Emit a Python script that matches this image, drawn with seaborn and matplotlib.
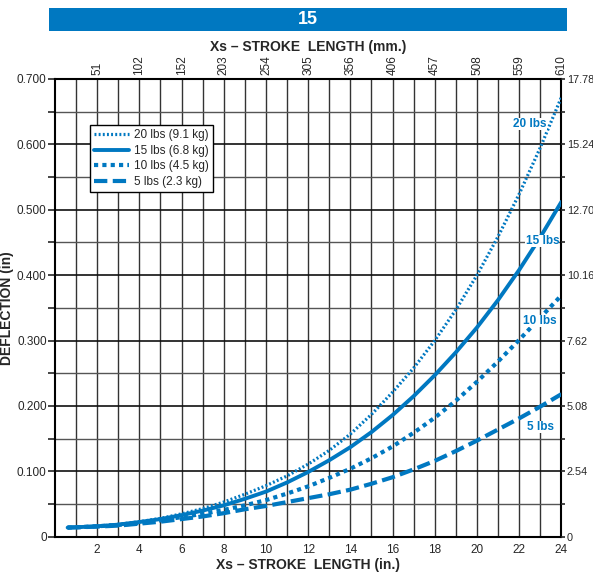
import numpy as np
import pandas as pd
import matplotlib
matplotlib.use("Agg")
import matplotlib.pyplot as plt
from matplotlib.patches import Rectangle
import seaborn as sns

# stroke length (in.) and deflection (in)
stroke = [0.6, 1, 2, 3, 4, 5, 6, 7, 8, 9, 10, 11, 12, 13, 14, 15, 16, 17, 18, 19, 20, 21, 22, 23, 24]
defl_20 = [0.014, 0.0145, 0.016, 0.019, 0.023, 0.028, 0.035, 0.043, 0.053, 0.065, 0.078, 0.093, 0.111,
           0.132, 0.157, 0.187, 0.221, 0.258, 0.300, 0.347, 0.400, 0.459, 0.524, 0.595, 0.672]
defl_15 = [0.014, 0.0145, 0.016, 0.0185, 0.0225, 0.027, 0.033, 0.040, 0.048, 0.058, 0.069, 0.083, 0.099,
           0.117, 0.137, 0.160, 0.186, 0.215, 0.247, 0.282, 0.320, 0.362, 0.408, 0.458, 0.512]
defl_10 = [0.014, 0.0145, 0.016, 0.018, 0.021, 0.025, 0.030, 0.035, 0.041, 0.048, 0.056, 0.066, 0.077,
           0.090, 0.104, 0.120, 0.138, 0.159, 0.182, 0.208, 0.237, 0.268, 0.301, 0.335, 0.369]
defl_5 = [0.014, 0.0143, 0.0155, 0.017, 0.020, 0.023, 0.027, 0.031, 0.036, 0.042, 0.047, 0.053, 0.059,
          0.065, 0.072, 0.081, 0.091, 0.103, 0.116, 0.131, 0.147, 0.164, 0.181, 0.199, 0.218]

series_names = ["20 lbs (9.1 kg)", "15 lbs (6.8 kg)", "10 lbs (4.5 kg)", "5 lbs (2.3 kg)"]
curve_labels = ["20 lbs", "15 lbs", "10 lbs", "5 lbs"]
mm_ticks = ["51", "102", "152", "203", "254", "305", "356", "406", "457", "508", "559", "610"]
mm_right = ["0", "2.54", "5.08", "7.62", "10.16", "12.70", "15.24", "17.78"]

BLUE = "#0078c1"

sns.set_style("white")
plt.rcParams["font.family"] = ["Liberation Sans", "DejaVu Sans"]

df = pd.DataFrame({
    "stroke": stroke * 4,
    "deflection": defl_20 + defl_15 + defl_10 + defl_5,
    "load": np.repeat(series_names, len(stroke)),
})

fig = plt.figure(figsize=(5.93, 5.79), dpi=100)
ax = fig.add_axes([0.0927, 0.073, 0.854, 0.7907])

# grid
for xv in range(1, 24):
    ax.axvline(xv, color="#333333", lw=1.0, zorder=1)
for yv in np.arange(0.05, 0.7, 0.05):
    major = abs(yv / 0.1 - round(yv / 0.1)) < 1e-6
    ax.axhline(yv, color="#111111" if major else "#555555", lw=1.2 if major else 1.0, zorder=1)

styles = {
    series_names[0]: dict(lw=2.3, linestyle=(0, (0.6, 0.7))),
    series_names[1]: dict(lw=2.8, linestyle="-"),
    series_names[2]: dict(lw=3.0, linestyle=(0, (1.0, 1.0))),
    series_names[3]: dict(lw=3.0, linestyle=(0, (3.2, 1.3))),
}
for name in series_names:
    sub = df[df["load"] == name]
    sns.lineplot(data=sub, x="stroke", y="deflection", ax=ax, color=BLUE,
                 label=name, zorder=3, **styles[name])

ax.set_xlim(0, 24)
ax.set_ylim(0, 0.7)
ax.set_xticks(range(2, 25, 2))
ax.set_xticklabels([str(v) for v in range(2, 25, 2)])
ax.set_yticks(np.arange(0, 0.71, 0.1))
ax.set_yticklabels(["0", "0.100", "0.200", "0.300", "0.400", "0.500", "0.600", "0.700"])
ax.set_yticks(np.arange(0.05, 0.7, 0.1), minor=True)
ax.tick_params(axis="x", length=0, pad=5, labelsize=8.5)
ax.tick_params(axis="y", which="both", length=5, width=1.2, direction="out", labelsize=8.5, pad=1, left=True)
ax.set_xlabel("Xs – STROKE  LENGTH (in.)", fontsize=10, fontweight="bold", labelpad=2)
ax.set_ylabel("DEFLECTION (in)", fontsize=10, fontweight="bold", labelpad=2)
for sp in ax.spines.values():
    sp.set_color("black")
    sp.set_linewidth(1.5)

# curve labels
label_pos = [(22.5, 0.631), (23.1, 0.452), (23.0, 0.330), (23.0, 0.168)]
for txt, (lx, ly) in zip(curve_labels, label_pos):
    ax.text(lx, ly, txt, color=BLUE, fontsize=8.5, fontweight="bold", ha="center", va="center",
            zorder=4, bbox=dict(facecolor="white", edgecolor="none", pad=0.2))

leg = ax.legend(loc="upper left", bbox_to_anchor=(0.069, 0.899), borderaxespad=0, fontsize=8.5,
                frameon=True, fancybox=False, edgecolor="black", framealpha=1, handlelength=3.0,
                handletextpad=0.4, labelspacing=0.3, borderpad=0.35)
leg.get_frame().set_linewidth(1.0)

# top mm axis
top = ax.twiny()
top.set_xlim(0, 24)
top.set_xticks(range(2, 25, 2))
top.set_xticklabels(mm_ticks, rotation=90)
top.tick_params(axis="x", length=0, pad=3, labelsize=8.5)
top.set_xlabel("Xs – STROKE  LENGTH (mm.)", fontsize=10, fontweight="bold", labelpad=3)
for sp in top.spines.values():
    sp.set_visible(False)

# right mm axis
right = ax.twinx()
right.set_ylim(0, 0.7)
right.set_yticks(np.arange(0, 0.71, 0.1))
right.set_yticklabels(mm_right)
right.set_yticks(np.arange(0.05, 0.7, 0.1), minor=True)
right.tick_params(axis="y", which="both", length=3, width=1.2, direction="out", labelsize=7.8, pad=1)
for sp in right.spines.values():
    sp.set_visible(False)

# title bar
fig.patches.append(Rectangle((0.0826, 0.9465), 0.874, 0.0397, transform=fig.transFigure,
                             facecolor=BLUE, edgecolor="none"))
fig.text(0.519, 0.966, "15", color="white", fontsize=13, fontweight="bold", ha="center", va="center")

fig.savefig("out.png", dpi=100)
